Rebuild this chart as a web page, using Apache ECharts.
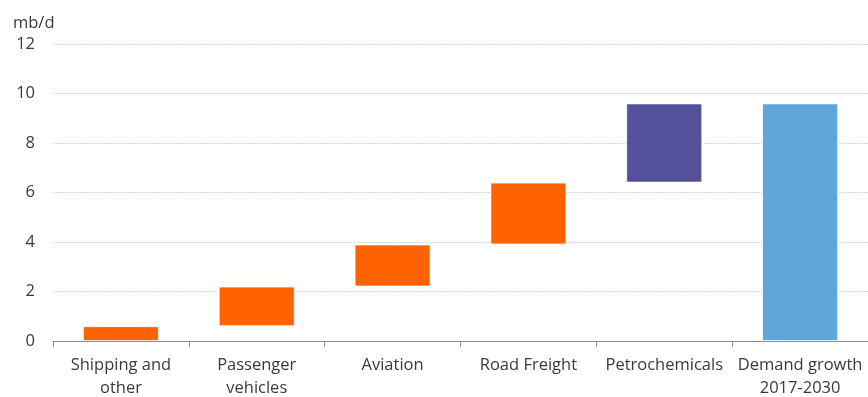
<!DOCTYPE html>
<html>
<head>
<meta charset="utf-8">
<script src="https://cdn.jsdelivr.net/npm/echarts@6/dist/echarts.min.js"></script>
<style>
  html, body { margin: 0; padding: 0; background: #fff; }
  #chart { width: 868px; height: 397px; }
</style>
</head>
<body>
<div id="chart"></div>
<script>
// Oil demand growth contributions by sector, 2017-2030 (mb/d)
const categories = ['Shipping and\nother', 'Passenger\nvehicles', 'Aviation', 'Road Freight', 'Petrochemicals', 'Demand growth\n2017-2030'];
const baseValues = [0, 0.6, 2.2, 3.9, 6.4, 0];     // invisible offset under each bar
const stepValues = [0.6, 1.6, 1.7, 2.5, 3.2, 9.6]; // visible height of each bar
const barColors = ['#FF6200', '#FF6200', '#FF6200', '#FF6200', '#525199', '#60A5D9'];
const yTicks = [0, 2, 4, 6, 8, 10, 12];

const chart = echarts.init(document.getElementById('chart'));
const textColor = '#3a3a3a';
const font = 'Open Sans';

chart.setOption({
  animation: false,
  grid: { left: 53, right: 0, top: 44, bottom: 56, containLabel: false, outerBoundsMode: 'none' },
  xAxis: {
    type: 'category',
    data: categories,
    axisLine: { lineStyle: { color: '#8c8c8c', width: 1 } },
    axisTick: { show: true, length: 6, lineStyle: { color: '#8c8c8c' } },
    axisLabel: { color: textColor, fontSize: 16.5, fontFamily: font, margin: 13, lineHeight: 23, interval: 0 }
  },
  yAxis: {
    type: 'value',
    min: yTicks[0],
    max: yTicks[yTicks.length - 1],
    interval: 2,
    name: 'mb/d',
    nameLocation: 'end',
    nameGap: 12,
    nameTextStyle: { color: textColor, fontSize: 16.5, fontFamily: font, align: 'left', padding: [0, 0, 0, -40] },
    axisLine: { show: false },
    axisTick: { show: false },
    axisLabel: { color: textColor, fontSize: 16.5, fontFamily: font, margin: 18 },
    splitLine: { lineStyle: { color: '#d4d4d4', type: [2, 1], width: 1 } }
  },
  series: [
    {
      type: 'bar',
      stack: 'total',
      data: baseValues,
      itemStyle: { color: 'transparent' },
      silent: true,
      barWidth: '56%'
    },
    {
      type: 'bar',
      stack: 'total',
      barWidth: '56%',
      data: stepValues.map((v, i) => ({
        value: v,
        itemStyle: { color: barColors[i], borderColor: 'rgba(255,255,255,0.7)', borderWidth: 1 }
      }))
    }
  ]
});
</script>
</body>
</html>
